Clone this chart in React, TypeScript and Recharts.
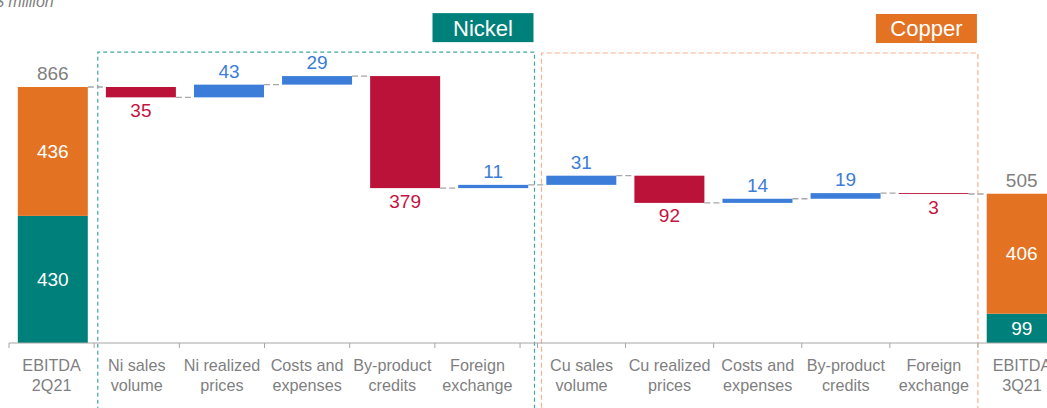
import React from 'react';
import { BarChart, Bar, XAxis, YAxis, LabelList, ReferenceArea } from 'recharts';

// ---------- data ----------
const ids = ['ebitda2q21', 'niVolume', 'niPrices', 'niCosts', 'niByproduct', 'niFx', 'cuVolume', 'cuPrices', 'cuCosts', 'cuByproduct', 'cuFx', 'ebitda3q21'];
const labels = ['EBITDA\n2Q21', 'Ni sales\nvolume', 'Ni realized\nprices', 'Costs and\nexpenses', 'By-product\ncredits', 'Foreign\nexchange', 'Cu sales\nvolume', 'Cu realized\nprices', 'Costs and\nexpenses', 'By-product\ncredits', 'Foreign\nexchange', 'EBITDA\n3Q21'];
const startNickel = 430;
const startCopper = 436;
const startTotal = 866;
const deltas = [-35, 43, 29, -379, 11, 31, -92, 14, 19, -3];
const endNickel = 99;
const endCopper = 406;
const endTotal = 505;
const segmentTitles = ['Nickel', 'Copper'];

// ---------- build rows ----------
type Row = { id: string; base?: number; teal?: number; orange?: number; total?: number; up?: number; down?: number; link: boolean };
const rows: Row[] = [];
rows.push({ id: ids[0], teal: startNickel, orange: startCopper, total: startTotal, link: true });
let level = startTotal;
deltas.forEach((d, i) => {
  const next = level + d;
  rows.push({
    id: ids[i + 1],
    base: Math.min(level, next),
    up: d > 0 ? d : undefined,
    down: d < 0 ? -d : undefined,
    link: true,
  });
  level = next;
});
rows.push({ id: ids[ids.length - 1], teal: endNickel, orange: endCopper, total: endTotal, link: false });

// ---------- style ----------
const TEAL = '#00807A';
const ORANGE = '#E37222';
const RED = '#BA1238';
const RED_TXT = '#C41441';
const BLUE = '#3B7DD8';
const GRAY = '#7F7F7F';
const LINE_GRAY = '#A6A6A6';
const CHART_W = 1080;
const MARGIN = { top: 47.4, left: 9, right: 14, bottom: 0 };
const PLOT_W = CHART_W - MARGIN.left - MARGIN.right;
const BAND = PLOT_W / ids.length;
const LEFT_SQUEEZE = 0.967; // labels of the nickel half sit on a slightly narrower grid
const SPLIT = 6;
const GAP_RATIO = 0.25; // gap / bar width for 10% category gap

const makeShape = (color: string, key: keyof Row, edge: 'top' | 'bottom' | 'none') => (props: any) => {
  const { x, y, width, height, payload } = props;
  if (!payload || payload[key] == null || !width) return <g />;
  const ly = edge === 'top' ? y : y + height;
  return (
    <g>
      <rect x={x} y={y} width={width} height={Math.max(height, 0)} fill={color} />
      {edge !== 'none' && payload.link && (
        <line x1={x + width} x2={x + width + width * GAP_RATIO} y1={ly} y2={ly} stroke={LINE_GRAY} strokeWidth={1.3} strokeDasharray="6 3" />
      )}
    </g>
  );
};

const CategoryTick = (props: any) => {
  const { x: x0, y, payload } = props;
  const i = ids.indexOf(payload.value);
  const left = i < SPLIT;
  const k = left ? LEFT_SQUEEZE : 1;
  const x = left ? MARGIN.left + (x0 - MARGIN.left) * k : x0;
  const band = BAND * k;
  const lines = (labels[i] || '').split('\n');
  return (
    <g>
      <line x1={x + band / 2} x2={x + band / 2} y1={y} y2={y + 5} stroke={LINE_GRAY} />
      {(i === 0 || i === SPLIT) && <line x1={x - band / 2} x2={x - band / 2} y1={y} y2={y + 5} stroke={LINE_GRAY} />}
      <text x={x} y={y + 28} textAnchor="middle" fill={GRAY} fontSize={16.2}>
        {lines.map((l, n) => (
          <tspan key={n} x={x} dy={n === 0 ? 0 : 19.5}>{l}</tspan>
        ))}
      </text>
    </g>
  );
};

const makeBox = (title: string, stroke: string, fill: string, insetL: number, insetR: number, dash: string) => (props: any) => {
  const { x, y, width, height } = props;
  const l = x + insetL;
  const r = x + width - insetR;
  const b = y + height;
  const tagW = 101;
  const tagH = 29;
  const tagR = r - 1;
  return (
    <g>
      <path d={`M${l},${b} L${l},${y} L${r},${y} L${r},${b}`} fill="none" stroke={stroke} strokeWidth={1.2} strokeDasharray={dash} />
      <rect x={tagR - tagW} y={y - 10 - tagH} width={tagW} height={tagH} fill={fill} />
      <text x={tagR - tagW / 2} y={y - 10 - tagH / 2 + 7.9} textAnchor="middle" fill="#FFFFFF" fontSize={22}>{title}</text>
    </g>
  );
};

export default function App() {
  return (
    <div style={{ position: 'fixed', left: 0, top: 0, width: 1047, height: 408, overflow: 'hidden', background: '#FFFFFF', fontFamily: '"Liberation Sans", Arial, sans-serif' }}>
      <div style={{ position: 'absolute', left: -5, top: -6.5, fontSize: 16, lineHeight: '16px', fontStyle: 'italic', color: GRAY, whiteSpace: 'nowrap' }}>$ million</div>
      <BarChart width={CHART_W} height={408} data={rows} margin={MARGIN} barCategoryGap="10%">
        <XAxis
          dataKey="id"
          interval={0}
          height={65}
          tickSize={0}
          tickMargin={0}
          tickLine={false}
          axisLine={{ stroke: LINE_GRAY, strokeWidth: 1 }}
          tick={<CategoryTick />}
        />
        <YAxis hide domain={[0, 1000]} />
        <ReferenceArea x1="niVolume" x2="niFx" y1={-300} y2={984} ifOverflow="visible"
          shape={makeBox(segmentTitles[0], '#3FA8A0', TEAL, 0.7, 3, '4 3')} />
        <ReferenceArea x1="cuVolume" x2="cuFx" y1={-300} y2={981} ifOverflow="visible"
          shape={makeBox(segmentTitles[1], '#F2B48A', ORANGE, 4, 0, '5 3')} />
        <Bar dataKey="base" stackId="w" fill="transparent" isAnimationActive={false} />
        <Bar dataKey="teal" stackId="w" fill={TEAL} isAnimationActive={false}>
          <LabelList dataKey="teal" position="center" fill="#FFFFFF" fontSize={19} />
        </Bar>
        <Bar dataKey="orange" stackId="w" fill={ORANGE} isAnimationActive={false} shape={makeShape(ORANGE, 'orange', 'top')}>
          <LabelList dataKey="orange" position="center" fill="#FFFFFF" fontSize={19} />
          <LabelList dataKey="total" position="top" offset={7} fill={GRAY} fontSize={19} />
        </Bar>
        <Bar dataKey="up" stackId="w" fill={BLUE} isAnimationActive={false} shape={makeShape(BLUE, 'up', 'top')}>
          <LabelList dataKey="up" position="top" offset={7} fill={BLUE} fontSize={19} />
        </Bar>
        <Bar dataKey="down" stackId="w" fill={RED} isAnimationActive={false} shape={makeShape(RED, 'down', 'bottom')}>
          <LabelList dataKey="down" position="bottom" offset={6} fill={RED_TXT} fontSize={19} />
        </Bar>
      </BarChart>
    </div>
  );
}
